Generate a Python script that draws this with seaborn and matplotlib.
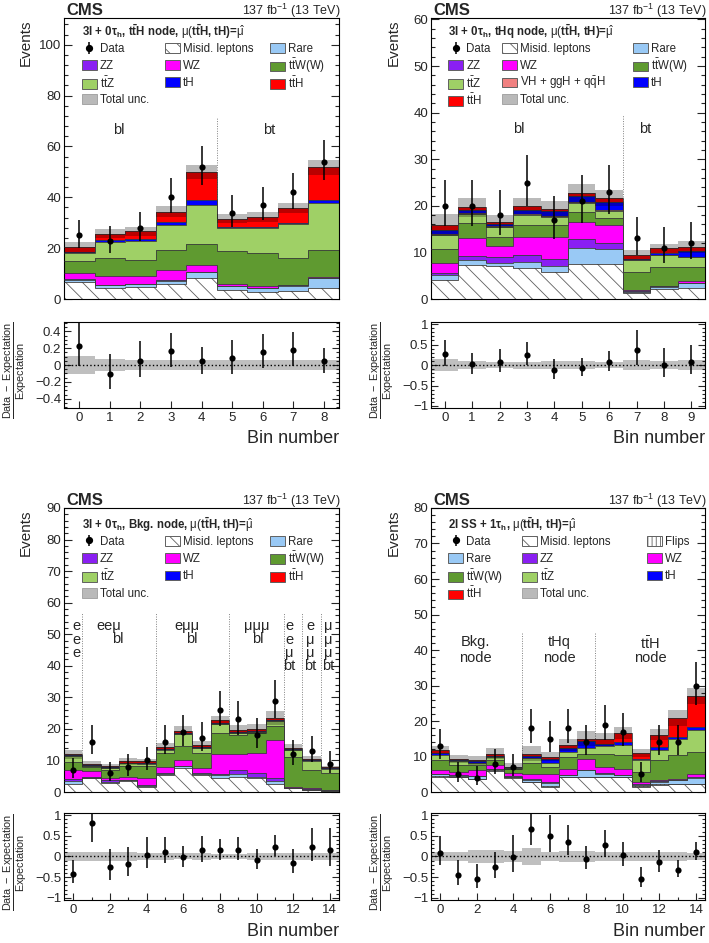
import numpy as np
import matplotlib
matplotlib.use("Agg")
import matplotlib.pyplot as plt
from matplotlib.patches import Patch
from matplotlib.lines import Line2D
from matplotlib.legend import Legend
from matplotlib.ticker import MultipleLocator, AutoMinorLocator, FuncFormatter, NullFormatter
import seaborn as sns

# ---------------- values ----------------
# (a) 3l + 0tau_h, ttH node
a_data = [25, 23, 28, 40, 52, 34, 37, 42, 54]
a_lo = [5.0, 4.8, 5.3, 6.3, 7.2, 5.8, 6.1, 6.5, 7.3]
a_hi = [6.1, 5.9, 6.3, 7.4, 8.3, 6.9, 7.1, 7.5, 8.4]
a_misid = [6.8, 4.2, 4.9, 5.8, 8.4, 3.7, 2.9, 3.3, 4.4]
a_rare = [0.7, 1.3, 1.0, 1.4, 2.1, 1.5, 1.3, 1.9, 3.7]
a_zz = [0.2, 0.2, 0.2, 0.2, 0.2, 0.1, 0.2, 0.2, 0.2]
a_wz = [2.7, 3.5, 2.8, 4.0, 2.7, 0.5, 0.7, 0.2, 0.5]
a_ttw = [4.7, 6.8, 6.6, 7.9, 8.1, 13.1, 12.9, 10.4, 10.5]
a_ttz = [2.9, 6.6, 7.3, 9.8, 15.5, 8.9, 9.8, 13.5, 18.6]
a_th = [0.5, 0.6, 0.9, 1.1, 2.0, 0.7, 0.4, 0.3, 1.1]
a_tth = [1.8, 2.4, 2.9, 4.2, 10.9, 3.0, 4.0, 5.9, 12.8]
a_unc = [2.2, 1.8, 1.7, 2.0, 2.8, 1.8, 1.9, 2.0, 3.0]

# (b) 3l + 0tau_h, tHq node
b_data = [20, 20, 18, 25, 17, 21, 23, 13, 11, 12]
b_lo = [4.4, 4.4, 4.2, 5.0, 4.1, 4.6, 4.8, 3.6, 3.3, 3.4]
b_hi = [5.5, 5.5, 5.3, 6.0, 5.2, 5.6, 5.8, 4.7, 4.4, 4.6]
b_misid = [4.1, 7.2, 7.0, 6.6, 5.8, 7.6, 7.6, 1.3, 2.1, 2.4]
b_rare = [1.1, 1.2, 0.7, 1.3, 1.3, 3.3, 3.2, 0.3, 0.5, 1.0]
b_zz = [0.4, 0.9, 1.3, 1.6, 1.5, 2.0, 1.3, 0.1, 0.1, 0.1]
b_wz = [2.1, 3.9, 2.4, 3.9, 4.7, 3.6, 3.8, 0.2, 0.2, 0.3]
b_ttw = [3.0, 3.1, 2.0, 2.5, 2.6, 2.1, 1.5, 3.8, 3.9, 3.0]
b_ttz = [3.1, 2.0, 2.0, 2.2, 1.8, 2.1, 1.4, 2.6, 2.6, 2.2]
b_vh = [0.2, 0.2, 0.2, 0.2, 0.2, 0.2, 0.2, 0.1, 0.1, 0.1]
b_th = [0.9, 0.6, 0.5, 0.8, 0.9, 1.2, 1.9, 0.2, 0.4, 1.3]
b_tth = [1.0, 0.6, 0.5, 0.8, 0.6, 0.6, 0.7, 0.9, 1.0, 0.7]
b_unc = [2.3, 2.0, 1.4, 1.7, 1.7, 2.0, 1.7, 1.1, 1.0, 1.3]

# (c) 3l + 0tau_h, Bkg. node
c_data = [7, 16, 6, 8, 10, 16, 19, 17, 26, 23, 18, 29, 12, 13, 9]
c_lo = [2.6, 4.0, 2.4, 2.8, 3.1, 4.0, 4.3, 4.1, 5.1, 4.8, 4.2, 5.4, 3.4, 3.6, 2.9]
c_hi = [3.8, 5.1, 3.6, 4.0, 4.3, 5.1, 5.4, 5.2, 6.1, 5.8, 5.3, 6.4, 4.6, 4.7, 4.1]
c_misid = [2.5, 4.4, 3.0, 3.5, 1.6, 5.5, 7.6, 5.5, 4.4, 4.8, 4.3, 2.5, 1.2, 0.5, 0.3]
c_rare = [1.0, 0.2, 0.3, 0.2, 0.3, 0.2, 0.5, 0.2, 1.1, 0.9, 0.6, 1.0, 0.1, 0.2, 0.1]
c_zz = [0.5, 0.2, 0.5, 0.2, 0.4, 0.2, 0.1, 0.3, 0.2, 1.3, 1.1, 1.1, 0.1, 0.2, 0.1]
c_wz = [3.0, 2.0, 0.8, 1.0, 2.3, 1.9, 2.0, 1.6, 6.2, 5.2, 6.4, 11.9, 0.2, 0.3, 0.1]
c_ttw = [2.5, 1.0, 2.4, 3.5, 3.8, 4.6, 4.3, 4.8, 6.9, 5.9, 6.2, 4.3, 9.5, 5.8, 5.3]
c_ttz = [1.8, 0.6, 0.6, 0.7, 0.5, 0.8, 3.9, 1.7, 2.8, 0.7, 0.5, 1.6, 2.1, 2.8, 1.4]
c_th = [0.3, 0.2, 0.2, 0.2, 0.4, 0.5, 0.4, 0.2, 0.4, 0.3, 0.3, 0.5, 0.4, 0.3, 0.2]
c_tth = [0.3, 0.3, 0.3, 0.4, 0.4, 0.6, 0.6, 0.5, 0.7, 0.6, 0.5, 0.5, 0.5, 0.4, 0.3]
c_unc = [1.3, 0.9, 0.8, 1.1, 0.8, 1.1, 1.4, 1.3, 1.5, 1.4, 1.6, 2.2, 1.1, 0.8, 0.6]

# (d) 2l SS + 1tau_h
d_data = [13, 5, 4, 8, 7, 18, 15, 18, 14, 19, 17, 5, 14, 14, 30]
d_lo = [3.6, 2.2, 1.9, 2.8, 2.6, 4.2, 3.8, 4.2, 3.7, 4.3, 4.1, 2.2, 3.7, 3.7, 5.5]
d_hi = [4.7, 3.4, 3.2, 4.0, 3.8, 5.3, 5.0, 5.3, 4.8, 5.4, 5.2, 3.4, 4.8, 4.8, 6.5]
d_misid = [4.3, 4.1, 3.6, 6.0, 3.9, 2.7, 1.4, 4.1, 4.1, 4.1, 4.1, 1.4, 2.0, 2.2, 2.2]
d_flips = [0.2, 0.2, 0.2, 0.2, 0.2, 0.2, 0.2, 0.2, 0.2, 0.2, 0.2, 0.2, 0.2, 0.2, 0.2]
d_rare = [0.5, 0.3, 0.7, 0.2, 0.2, 0.6, 1.0, 0.5, 1.9, 0.9, 0.5, 0.5, 0.7, 0.9, 1.6]
d_zz = [0.1, 0.1, 0.1, 0.1, 0.1, 0.1, 0.1, 0.1, 0.1, 0.1, 0.1, 0.1, 0.1, 0.1, 0.1]
d_wz = [1.1, 1.0, 1.6, 1.1, 1.0, 1.4, 2.3, 1.5, 3.0, 1.7, 1.5, 0.7, 0.5, 0.4, 1.1]
d_ttw = [2.8, 1.9, 1.4, 1.4, 1.0, 3.1, 2.0, 3.6, 1.5, 3.8, 4.1, 2.8, 5.5, 6.7, 6.2]
d_ttz = [1.5, 1.0, 0.7, 0.8, 0.3, 1.4, 1.3, 1.4, 1.6, 2.1, 2.8, 3.3, 2.7, 4.3, 6.2]
d_th = [0.6, 0.3, 0.3, 0.4, 0.3, 0.7, 0.9, 1.0, 1.9, 0.6, 0.7, 0.4, 1.0, 0.7, 0.8]
d_tth = [0.8, 0.3, 0.3, 0.6, 0.1, 0.6, 0.8, 0.9, 0.7, 1.3, 2.6, 1.7, 3.5, 5.3, 8.6]
d_unc = [1.2, 1.1, 1.3, 1.6, 1.0, 2.1, 1.2, 1.7, 2.1, 1.7, 1.8, 1.1, 1.6, 2.3, 2.2]

# ---------------- style ----------------
sns.set_style("ticks")
plt.rcParams["font.family"] = ["Liberation Sans", "DejaVu Sans"]
plt.rcParams.update({
    "mathtext.fontset": "custom",
    "mathtext.rm": "Liberation Sans",
    "mathtext.it": "Liberation Sans:italic",
    "mathtext.bf": "Liberation Sans:bold",
    "mathtext.default": "rm",
    "hatch.linewidth": 0.6,
    "axes.linewidth": 0.8,
    "axes.edgecolor": "black",
})

STYLE = {
    "misid": dict(fc="white", ec="#5f5f5f", hatch="\\\\"),
    "flips": dict(fc="white", ec="#5f5f5f", hatch="||||"),
    "rare": dict(fc="#99c9f5", ec="#99c9f5"),
    "zz": dict(fc="#8a1ff2", ec="#8a1ff2"),
    "wz": dict(fc="#ff00ff", ec="#ff00ff"),
    "ttw": dict(fc="#5f9a30", ec="#5f9a30"),
    "ttz": dict(fc="#9fd066", ec="#9fd066"),
    "vh": dict(fc="#f08080", ec="#f08080"),
    "th": dict(fc="#0000ff", ec="#0000ff"),
    "tth": dict(fc="#ff0000", ec="#ff0000"),
}
LABELS = {
    "data": "Data", "misid": "Misid. leptons", "flips": "Flips", "rare": "Rare",
    "zz": "ZZ", "wz": "WZ", "ttw": r"$t\bar{t}W(W)$", "ttz": r"$t\bar{t}Z$",
    "vh": r"VH + ggH + $q\bar{q}$H", "th": "tH", "tth": r"$t\bar{t}H$",
    "unc": "Total unc.",
}
UNC_ALPHA = 0.27


def fmt_ratio(v, pos):
    if abs(v) < 1e-9:
        return "0"
    return f"{v:g}".replace("-", "\u2212")


def draw(ax, rax, stack, data, lo, hi, unc, ymax, ymajor, rlim, rmajor, rminor, xstep,
         header, legend_keys, leg_x, row0, pitch, head_y, seps, sep_top, cats):
    n = len(data)
    x = np.arange(n)
    edges = np.arange(n + 1) - 0.5
    data = np.asarray(data, float)
    lo = np.asarray(lo, float)
    hi = np.asarray(hi, float)
    unc = np.asarray(unc, float)

    # separators between categories
    ax.vlines(seps, 0, sep_top, colors="#808080", linestyles=(0, (1, 1.5)), lw=0.7, zorder=1)

    base = np.zeros(n)
    for key, vals in stack:
        top = base + np.asarray(vals, float)
        st = STYLE[key]
        ax.stairs(top, edges, baseline=base, fill=True, facecolor=st["fc"],
                  edgecolor=st["ec"], hatch=st.get("hatch"), linewidth=0, zorder=2)
        ax.stairs(top, edges, baseline=None, color="#3c3c3c", lw=0.6, zorder=3)
        base = top
    total = base
    ax.stairs(total + unc, edges, baseline=total - unc, fill=True, facecolor="black",
              alpha=UNC_ALPHA, linewidth=0, zorder=4)

    eb = ax.errorbar(x, data, yerr=[lo, hi], fmt="none", ecolor="black", elinewidth=1.1, zorder=6)
    sns.scatterplot(x=x, y=data, ax=ax, color="black", s=20, linewidth=0, zorder=7, legend=False)

    ax.set_xlim(-0.5, n - 0.5)
    ax.set_ylim(0, ymax)
    ax.xaxis.set_major_locator(MultipleLocator(1))
    ax.xaxis.set_major_formatter(NullFormatter())
    ax.yaxis.set_major_locator(MultipleLocator(ymajor))
    ax.yaxis.set_minor_locator(AutoMinorLocator(5))
    ax.tick_params(axis="both", which="both", direction="in", right=True, width=0.8)
    ax.tick_params(axis="y", which="major", length=5.5, labelsize=9.5, pad=2)
    ax.tick_params(axis="y", which="minor", length=2.8)
    ax.tick_params(axis="x", which="major", length=3.5)
    ax.set_xlabel("")
    ax.set_ylabel("Events", fontsize=11, loc="top")
    ax.yaxis.set_label_coords(-0.112, 0.993)

    ax.text(0.01, 1.01, "CMS", transform=ax.transAxes, fontsize=12, fontweight="bold",
            ha="left", va="baseline")
    ax.text(1.005, 1.01, r"137 fb$^{-1}$ (13 TeV)", transform=ax.transAxes, fontsize=9,
            ha="right", va="baseline")
    ax.text(leg_x[0], head_y, header, transform=ax.transAxes, fontsize=8.3,
            fontweight="bold", ha="left", va="center")

    # legend: one small legend per entry so rows line up like the original grid
    handles = {k: Patch(facecolor=STYLE[k]["fc"], edgecolor="#606060", hatch=STYLE[k].get("hatch"),
                        lw=0.7) for k in STYLE}
    handles["unc"] = Patch(facecolor="#b9b9b9", edgecolor="#a5a5a5", lw=0.7)
    handles["data"] = (eb, Line2D([], [], marker="o", ls="none", color="black", ms=4.2))
    for i, k in enumerate(legend_keys):
        xc = leg_x[i % 3]
        yc = row0 - (i // 3) * pitch
        lg = Legend(ax, [handles[k]], [LABELS[k]], loc="center left", bbox_to_anchor=(xc, yc),
                    bbox_transform=ax.transAxes, frameon=False, borderpad=0, borderaxespad=0,
                    handlelength=1.3, handleheight=0.93, handletextpad=0.25, fontsize=8.3)
        ax.add_artist(lg)

    for cx, cy, txt in cats:
        ax.text(cx, cy, txt, fontsize=10.5, ha="center", va="top", linespacing=0.93, zorder=5)

    # ratio panel
    ratio = data / total - 1
    rax.stairs(unc / total, edges, baseline=-unc / total, fill=True, facecolor="black",
               alpha=0.25, linewidth=0, zorder=1)
    rax.axhline(0, color="black", ls=":", lw=1.0, zorder=2)
    rax.errorbar(x, ratio, yerr=[lo / total, hi / total], fmt="none", ecolor="black",
                 elinewidth=1.1, zorder=5)
    sns.scatterplot(x=x, y=ratio, ax=rax, color="black", s=20, linewidth=0, zorder=6, legend=False)
    rax.set_xlim(-0.5, n - 0.5)
    rax.set_ylim(-rlim, rlim)
    rax.xaxis.set_major_locator(MultipleLocator(xstep))
    rax.xaxis.set_minor_locator(MultipleLocator(1))
    rax.yaxis.set_major_locator(MultipleLocator(rmajor))
    rax.yaxis.set_minor_locator(MultipleLocator(rminor))
    rax.yaxis.set_major_formatter(FuncFormatter(fmt_ratio))
    rax.tick_params(axis="both", which="both", direction="in", right=True, width=0.8)
    rax.tick_params(axis="both", which="major", length=5, labelsize=9.5)
    rax.tick_params(axis="y", which="major", pad=2)
    rax.tick_params(axis="x", which="major", pad=3)
    rax.tick_params(axis="both", which="minor", length=2.5)
    rax.set_ylabel(r"$\dfrac{\mathrm{Data\ -\ Expectation}}{\mathrm{Expectation}}$", fontsize=7.8)
    rax.yaxis.set_label_coords(-0.128, 0.44)
    rax.set_xlabel("Bin number", fontsize=13, loc="right")
    rax.xaxis.set_label_coords(1.0, -0.26)


fig = plt.figure(figsize=(7.09, 9.43), dpi=100)
LX, RX, WL, WR = 0.0903, 0.6079, 0.3879, 0.3865
ax_a = fig.add_axes([LX, 0.6829, WL, 0.2980])
rx_a = fig.add_axes([LX, 0.5673, WL, 0.0912])
ax_b = fig.add_axes([RX, 0.6829, WR, 0.2980])
rx_b = fig.add_axes([RX, 0.5673, WR, 0.0912])
ax_c = fig.add_axes([LX, 0.1601, WL, 0.3012])
rx_c = fig.add_axes([LX, 0.0456, WL, 0.0923])
ax_d = fig.add_axes([RX, 0.1601, WR, 0.3012])
rx_d = fig.add_axes([RX, 0.0456, WR, 0.0923])

keys_a = ["data", "misid", "rare", "zz", "wz", "ttw", "ttz", "th", "tth", "unc"]
keys_b = ["data", "misid", "rare", "zz", "wz", "ttw", "ttz", "vh", "th", "tth", "unc"]
keys_d = ["data", "misid", "flips", "rare", "zz", "wz", "ttw", "ttz", "th", "tth", "unc"]

HEAD_A = r"3l + 0$\mathbf{\tau_{h}}$, $\mathbf{t\bar{t}H}$ node, $\mu(\mathbf{t\bar{t}H}$, tH)=$\hat{\mu}$"
HEAD_B = r"3l + 0$\mathbf{\tau_{h}}$, tHq node, $\mu(\mathbf{t\bar{t}H}$, tH)=$\hat{\mu}$"
HEAD_C = r"3l + 0$\mathbf{\tau_{h}}$, Bkg. node, $\mu(\mathbf{t\bar{t}H}$, tH)=$\hat{\mu}$"
HEAD_D = r"2l SS + 1$\mathbf{\tau_{h}}$, $\mu(\mathbf{t\bar{t}H}$, tH)=$\hat{\mu}$"

draw(ax_a, rx_a,
     [("misid", a_misid), ("rare", a_rare), ("zz", a_zz), ("wz", a_wz), ("ttw", a_ttw),
      ("ttz", a_ttz), ("th", a_th), ("tth", a_tth)],
     a_data, a_lo, a_hi, a_unc, 110.5, 20, 0.51, 0.2, 0.05, 1,
     HEAD_A, keys_a, [0.065, 0.367, 0.749], 0.8886, 0.0605, 0.950, [4.5], 71.7,
     [(1.28, 69.4, "bl"), (6.22, 69.4, "bt")])

draw(ax_b, rx_b,
     [("misid", b_misid), ("rare", b_rare), ("zz", b_zz), ("wz", b_wz), ("ttw", b_ttw),
      ("ttz", b_ttz), ("vh", b_vh), ("th", b_th), ("tth", b_tth)],
     b_data, b_lo, b_hi, b_unc, 60.3, 10, 1.05, 0.5, 0.1, 1,
     HEAD_B, keys_b, [0.063, 0.258, 0.738], 0.8886, 0.0605, 0.950, [6.5], 39.5,
     [(2.69, 38.0, "bl"), (7.31, 38.0, "bt")])

draw(ax_c, rx_c,
     [("misid", c_misid), ("rare", c_rare), ("zz", c_zz), ("wz", c_wz), ("ttw", c_ttw),
      ("ttz", c_ttz), ("th", c_th), ("tth", c_tth)],
     c_data, c_lo, c_hi, c_unc, 90, 10, 1.05, 0.5, 0.1, 2,
     HEAD_C, keys_a, [0.065, 0.367, 0.749], 0.881, 0.061, 0.9426,
     [0.5, 4.5, 8.5, 11.5, 12.5, 13.5], 56.6,
     [(0.15, 54.7, "e\ne\ne"), (1.95, 54.7, "ee\u03bc"), (2.45, 50.7, "bl"),
      (6.2, 54.7, "e\u03bc\u03bc"), (6.45, 50.7, "bl"),
      (10.0, 54.7, "\u03bc\u03bc\u03bc"), (10.08, 50.7, "bl"),
      (11.8, 54.7, "e\ne\n\u03bc\nbt"), (12.92, 54.7, "e\n\u03bc\n\u03bc\nbt"),
      (13.92, 54.7, "\u03bc\n\u03bc\n\u03bc\nbt")])

draw(ax_d, rx_d,
     [("misid", d_misid), ("flips", d_flips), ("rare", d_rare), ("zz", d_zz), ("wz", d_wz),
      ("ttw", d_ttw), ("ttz", d_ttz), ("th", d_th), ("tth", d_tth)],
     d_data, d_lo, d_hi, d_unc, 80, 10, 1.05, 0.5, 0.1, 2,
     HEAD_D, keys_d, [0.063, 0.331, 0.787], 0.881, 0.061, 0.9426, [4.5, 8.5], 44.7,
     [(1.95, 44.1, "Bkg."), (1.95, 39.7, "node"), (6.5, 44.1, "tHq"), (6.5, 39.7, "node"),
      (11.5, 44.1, r"t$\bar{t}$H"), (11.5, 39.7, "node")])

fig.savefig("out.png", dpi=100)
